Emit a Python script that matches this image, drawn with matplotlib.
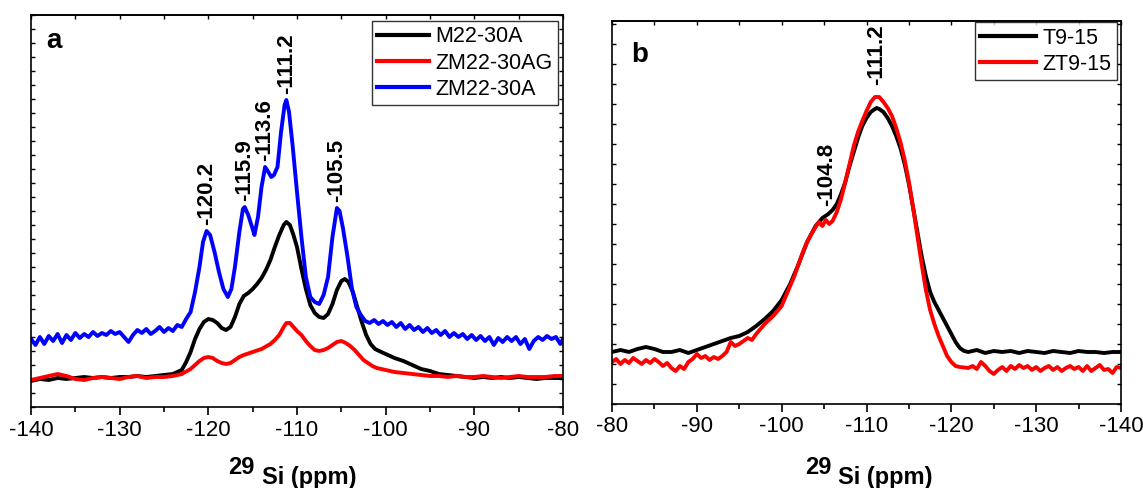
import numpy as np
import matplotlib
matplotlib.use("Agg")
import matplotlib.pyplot as plt
from matplotlib.ticker import MultipleLocator

plt.rcParams['font.family'] = ['Liberation Sans', 'DejaVu Sans']

# ---------------- Panel a data (ppm, arbitrary intensity) ----------------
a_blue_ppm = [-140, -139.5, -139, -138.5, -138, -137.5, -137, -136.5, -136, -135.5, -135, -134.5, -134, -133.5,
              -133, -132.5, -132, -131.5, -131, -130.5, -130, -129.5, -129, -128.5, -128, -127.5, -127, -126.5,
              -126, -125.5, -125, -124.5, -124, -123.5, -123, -122.5, -122, -121.5, -121, -120.6, -120.2, -119.8,
              -119.3, -118.8, -118.3, -117.8, -117.4, -117, -116.5, -116.1, -115.9, -115.5, -115, -114.8, -114.4,
              -114, -113.6, -113.3, -112.9, -112.6, -112.2, -111.8, -111.4, -111.2, -110.9, -110.5, -110, -109.5,
              -109, -108.5, -108, -107.5, -107, -106.5, -106, -105.5, -105.2, -104.8, -104.3, -103.8, -103.3,
              -102.8, -102.3, -101.8, -101.3, -100.8, -100.3, -99.8, -99.3, -98.8, -98.3, -97.8, -97.3, -96.8,
              -96.3, -95.8, -95.3, -94.8, -94.3, -93.8, -93.3, -92.8, -92.3, -91.8, -91.3, -90.8, -90.3, -89.8,
              -89.3, -88.8, -88.3, -87.8, -87.3, -86.8, -86.3, -85.8, -85.3, -84.8, -84.3, -83.8, -83.3, -82.8,
              -82.3, -81.8, -81.3, -80.8, -80.3, -80]
a_blue_int = [68, 62, 70, 63, 71, 66, 73, 64, 72, 67, 74, 69, 73, 70,
              75, 71, 74, 72, 76, 73, 75, 70, 65, 72, 77, 74, 78, 73,
              76, 80, 75, 79, 76, 82, 80, 88, 95, 115, 140, 165, 176, 172,
              155, 135, 118, 110, 118, 140, 175, 198, 200, 192, 178, 172, 190,
              220, 240, 236, 230, 232, 240, 275, 302, 307, 295, 262, 215, 170,
              130, 110, 105, 103, 112, 130, 170, 199, 196, 178, 150, 118, 100,
              92, 86, 84, 87, 83, 86, 82, 85, 80, 84, 78, 82, 77,
              80, 75, 79, 74, 77, 72, 76, 70, 74, 70, 73, 68, 72, 67,
              71, 66, 70, 62, 69, 65, 70, 66, 70, 63, 68, 58, 66, 70,
              67, 71, 68, 70, 63, 68]

a_black_ppm = [-140, -139, -138, -137, -136, -135, -134, -133, -132, -131, -130, -129, -128, -127, -126, -125,
               -124, -123, -122.5, -122, -121.5, -121, -120.5, -120, -119.5, -119, -118.5, -118, -117.5, -117,
               -116.5, -116, -115.5, -115, -114.5, -114, -113.5, -113, -112.5, -112, -111.5, -111.2, -110.8,
               -110.4, -110, -109.5, -109, -108.5, -108, -107.5, -107, -106.5, -106, -105.5, -105, -104.6,
               -104.2, -103.7, -103.2, -102.7, -102.2, -101.7, -101.2, -100.5, -100, -99, -98, -97, -96, -95,
               -94, -93, -92, -91, -90, -89, -88, -87, -86, -85, -84, -83, -82, -81, -80]
a_black_int = [26, 28, 27, 29, 28, 29, 30, 29, 30, 29, 30, 30, 31, 30, 31, 32,
               33, 37, 45, 55, 68, 78, 85, 88, 87, 84, 79, 77, 80, 90,
               103, 111, 114, 118, 123, 129, 137, 147, 160, 172, 182, 185, 182,
               172, 160, 138, 118, 102, 94, 90, 89, 93, 103, 117, 126, 128,
               125, 115, 100, 85, 72, 63, 58, 55, 53, 49, 46, 42, 38, 36,
               33, 32, 31, 30, 29, 30, 29, 30, 29, 30, 29, 28, 29, 29, 29]

a_red_ppm = [-140, -139, -138, -137, -136, -135, -134, -133, -132, -131, -130, -129, -128, -127, -126, -125,
             -124, -123, -122, -121.5, -121, -120.5, -120, -119.5, -119, -118.5, -118, -117.5, -117, -116.5,
             -116, -115, -114, -113, -112.5, -112, -111.5, -111.2, -110.8, -110.4, -110, -109.5, -109, -108.5,
             -108, -107.5, -107, -106.5, -106, -105.5, -105, -104.5, -104, -103.5, -103, -102.5, -102, -101.5,
             -101, -100, -99, -98, -97, -96, -95, -94, -93, -92, -91, -90, -89, -88, -87, -86, -85, -84, -83,
             -82, -81, -80]
a_red_int = [27, 29, 31, 33, 31, 28, 27, 29, 30, 29, 28, 30, 31, 29, 30, 30,
             31, 33, 38, 42, 46, 49, 50, 49, 46, 44, 43, 44, 47, 50,
             52, 55, 58, 63, 67, 72, 80, 84, 84, 80, 76, 72, 66, 61,
             57, 56, 57, 59, 62, 65, 66, 64, 61, 57, 52, 47, 44, 41,
             39, 37, 35, 34, 33, 32, 31, 31, 30, 31, 30, 30, 31, 30, 29, 30, 31, 30, 30,
             30, 31, 31]

a_labels = ['M22-30A', 'ZM22-30AG', 'ZM22-30A']
a_peaks_ppm = [-120.2, -115.9, -113.6, -111.2, -105.5]
a_peaks_txt = ['-120.2', '-115.9', '-113.6', '-111.2', '-105.5']
a_peaks_int = [176, 200, 240, 307, 199]

# ---------------- Panel b data ----------------
b_black_ppm = [-80, -81, -82, -83, -84, -85, -86, -87, -88, -89, -90, -91, -92, -93, -94, -95, -96, -97, -98,
               -99, -100, -101, -102, -103, -104, -104.8, -105.5, -106, -106.5, -107, -107.5, -108, -108.5,
               -109, -109.5, -110, -110.5, -111, -111.2, -111.5, -112, -112.5, -113, -113.5, -114, -114.5, -115,
               -115.5, -116, -116.5, -117, -117.5, -118, -118.5, -119, -119.5, -120, -120.5, -121, -121.5, -122,
               -123, -124, -125, -126, -127, -128, -129, -130, -131, -132, -133, -134, -135, -136, -137, -138,
               -139, -140]
b_black_int = [52, 54, 52, 55, 57, 55, 52, 52, 54, 51, 54, 57, 60, 63, 66, 68, 72, 78, 85,
               93, 104, 120, 140, 162, 178, 186, 190, 194, 200, 210, 222, 238, 252,
               266, 278, 286, 292, 295, 296, 295, 292, 286, 278, 268, 256, 240, 220,
               196, 172, 148, 128, 112, 102, 94, 86, 78, 70, 62, 56, 53, 52,
               54, 51, 53, 52, 53, 51, 53, 52, 51, 53, 52, 51, 53, 52, 52, 51,
               52, 52]

b_red_ppm = [-80, -80.5, -81, -81.5, -82, -82.5, -83, -83.5, -84, -84.5, -85, -85.5, -86, -86.5, -87, -87.5,
             -88, -88.5, -89, -89.5, -90, -90.5, -91, -91.5, -92, -92.5, -93, -93.5, -94, -94.5, -95, -95.5,
             -96, -96.5, -97, -97.5, -98, -98.5, -99, -99.5, -100, -100.5, -101, -101.5, -102, -102.5, -103,
             -103.5, -104, -104.4, -104.8, -105.2, -105.6, -106, -106.5, -107, -107.5, -108, -108.5, -109,
             -109.5, -110, -110.5, -111, -111.5, -112, -112.5, -113, -113.5, -114, -114.5, -115, -115.5, -116,
             -116.5, -117, -117.5, -118, -118.5, -119, -119.5, -120, -120.5, -121, -122, -122.5, -123, -123.5,
             -124, -124.5, -125, -125.5, -126, -126.5, -127, -127.5, -128, -128.5, -129, -129.5, -130, -130.5,
             -131, -131.5, -132, -132.5, -133, -133.5, -134, -134.5, -135, -135.5, -136, -136.5, -137, -137.5,
             -138, -138.5, -139, -139.5, -140]
b_red_int = [42, 45, 40, 44, 41, 46, 43, 40, 44, 41, 45, 42, 38, 41, 36, 33,
             38, 35, 42, 45, 50, 46, 48, 44, 47, 45, 48, 52, 62, 58, 60, 63,
             66, 64, 70, 75, 80, 84, 88, 93, 98, 108, 118, 128, 140, 152, 162,
             170, 177, 182, 178, 184, 180, 183, 192, 205, 222, 240, 258, 272,
             283, 293, 302, 307, 307, 302, 296, 288, 276, 262, 244, 222, 196, 168,
             140, 114, 94, 80, 68, 58, 48, 42, 38, 37, 36, 38, 35, 42,
             38, 33, 30, 34, 37, 33, 38, 35, 39, 36, 38, 34, 37, 33,
             36, 38, 34, 37, 33, 36, 38, 35, 37, 33, 38, 33, 36, 39,
             34, 35, 31, 37, 36]

b_labels = ['T9-15', 'ZT9-15']
b_peaks_ppm = [-105.3, -111.2]
b_peaks_txt = ['-104.8', '-111.2']
b_peaks_int = [186, 307]

xticks = [-140, -130, -120, -110, -100, -90, -80]

# ---------------- Figure ----------------
W, H = 1143, 488
fig = plt.figure(figsize=(W / 100, H / 100), dpi=100)

def px_axes(l, t, r, b):
    return fig.add_axes([l / W, (H - b) / H, (r - l) / W, (b - t) / H])

axA = px_axes(31, 15, 563, 407)
axB = px_axes(612, 21, 1121, 404)

lw = 2.8
axA.plot(a_black_ppm, a_black_int, color='black', lw=lw, label=a_labels[0], solid_joinstyle='round')
axA.plot(a_red_ppm, a_red_int, color='#ff0000', lw=lw, label=a_labels[1], solid_joinstyle='round')
axA.plot(a_blue_ppm, a_blue_int, color='#0000ff', lw=lw, label=a_labels[2], solid_joinstyle='round')
axA.set_xlim(-140, -80)
axA.set_ylim(0, 392)

axB.plot(b_black_ppm, b_black_int, color='black', lw=lw, label=b_labels[0], solid_joinstyle='round')
axB.plot(b_red_ppm, b_red_int, color='#ff0000', lw=lw, label=b_labels[1], solid_joinstyle='round')
axB.set_xlim(-80, -140)
axB.set_ylim(0, 383)

for ax, ystep in ((axA, 14), (axB, 20)):
    for s in ax.spines.values():
        s.set_linewidth(1.2)
    ax.set_xticks(xticks)
    ax.set_xticklabels([str(t) for t in xticks])
    ax.xaxis.set_minor_locator(MultipleLocator(5))
    ax.tick_params(axis='x', which='major', direction='out', length=6, width=1.2,
                   labelsize=16, pad=3, top=False)
    ax.tick_params(axis='x', which='minor', direction='out', length=3.5, width=1.2, top=False)
    ax.yaxis.set_major_locator(MultipleLocator(ystep))
    ax.tick_params(axis='y', which='both', direction='in', length=3, width=1,
                   left=True, right=True, labelleft=False)
    sec = ax.secondary_xaxis('top')
    sec.xaxis.set_major_locator(MultipleLocator(5))
    sec.tick_params(axis='x', direction='in', length=3, width=1, labeltop=False)
    sec.spines['top'].set_linewidth(1.2)

for x, y, t in zip(a_peaks_ppm, a_peaks_int, a_peaks_txt):
    axA.text(x, y + 6, t, rotation=90, ha='center', va='bottom', fontsize=16, fontweight='bold')
for x, y, t in zip(b_peaks_ppm, b_peaks_int, b_peaks_txt):
    axB.text(x, y + 12, t, rotation=90, ha='center', va='bottom', fontsize=16, fontweight='bold')

legA = axA.legend(loc='upper right', bbox_to_anchor=(0.991, 0.985), borderaxespad=0, fontsize=15.5,
                  frameon=True, fancybox=False, edgecolor='black', handlelength=2.4, handletextpad=0.3,
                  labelspacing=0.25, borderpad=0.25)
legA.get_frame().set_linewidth(1.0)
legB = axB.legend(loc='upper right', bbox_to_anchor=(0.992, 0.997), borderaxespad=0, fontsize=15.5,
                  frameon=True, fancybox=False, edgecolor='black', handlelength=2.6, handletextpad=0.3,
                  labelspacing=0.25, borderpad=0.25)
legB.get_frame().set_linewidth(1.0)
for leg in (legA, legB):
    for h in leg.get_lines():
        h.set_linewidth(3)

fig.text(54 / W, (H - 41) / H, 'a', fontsize=20, fontweight='bold', ha='center', va='center')
fig.text(640 / W, (H - 55) / H, 'b', fontsize=20, fontweight='bold', ha='center', va='center')

for x29, xsi in ((228, 262), (805, 838)):
    fig.text(x29 / W, (H - 474) / H, '29', fontsize=17, fontweight='bold', ha='left', va='baseline')
    fig.text(xsi / W, (H - 484) / H, 'Si (ppm)', fontsize=17, fontweight='bold', ha='left', va='baseline')

fig.savefig('out.png', dpi=100)
